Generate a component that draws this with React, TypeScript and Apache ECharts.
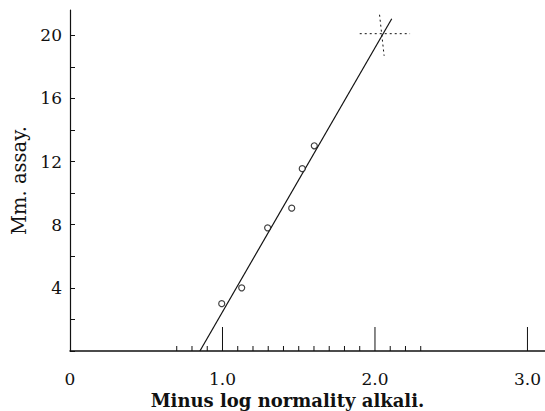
import React, { useEffect, useRef } from 'react';
import * as echarts from 'echarts';

const assayPoints: [number, number][] = [
  [0.995, 3.0],
  [1.126, 4.0],
  [1.296, 7.8],
  [1.454, 9.05],
  [1.523, 11.55],
  [1.602, 13.0],
];
const fitLine: [number, number][] = [
  [0.852, 0],
  [2.11, 21.05],
];
const crossH: [number, number][] = [
  [1.9, 20.1],
  [2.23, 20.1],
];
const crossV: [number, number][] = [
  [2.03, 21.3],
  [2.06, 18.7],
];
const rugMarks: number[] = [0.7, 0.8, 0.9, 1.0, 1.1, 1.2, 1.3, 1.4, 1.5, 1.6, 1.7, 1.8, 1.9, 2.0, 2.1, 2.2, 2.3, 3.0];
const majorMarks: number[] = [1.0, 2.0, 3.0];
const xTickLabels: string[] = ['0', '1.0', '2.0', '3.0'];
const yTickLabels: number[] = [4, 8, 12, 16, 20];

const FONT = '"DejaVu Serif", serif';
const INK = '#111';

export default function App() {
  const ref = useRef<HTMLDivElement>(null);
  useEffect(() => {
    if (!ref.current) return;
    const chart = echarts.init(ref.current, null, { renderer: 'svg' });
    chart.setOption({
      animation: false,
      backgroundColor: '#fff',
      grid: { left: 70, right: 0, top: 10, bottom: 60, containLabel: false, outerBoundsMode: 'none' },
      xAxis: {
        type: 'value',
        min: 0,
        max: 3.115,
        interval: 1,
        splitLine: { show: false },
        axisLine: { show: true, lineStyle: { color: INK, width: 1.5 } },
        axisTick: { show: false },
        axisLabel: {
          margin: 19,
          color: INK,
          fontFamily: FONT,
          fontSize: 17,
          showMaxLabel: false,
          formatter: (v: number) => {
            const i = Math.round(v);
            return Math.abs(v - i) < 1e-6 && xTickLabels[i] !== undefined ? xTickLabels[i] : '';
          },
        },
        name: 'Minus log normality alkali.',
        nameLocation: 'middle',
        nameGap: 38,
        nameTextStyle: {
          color: INK,
          fontFamily: FONT,
          fontSize: 18,
          fontWeight: 'bold',
          padding: [0, 40, 0, 0],
        },
      },
      yAxis: {
        type: 'value',
        min: 0,
        max: 21.6,
        interval: 2,
        splitLine: { show: false },
        axisLine: { show: true, lineStyle: { color: INK, width: 1.2 } },
        axisTick: { show: true, inside: true, length: 5, lineStyle: { color: INK } },
        axisLabel: {
          margin: 8,
          color: INK,
          fontFamily: FONT,
          fontSize: 17,
          showMaxLabel: false,
          formatter: (v: number) => (yTickLabels.indexOf(v) >= 0 ? String(v) : ''),
        },
        name: 'Mm. assay.',
        nameLocation: 'middle',
        nameGap: 40,
        nameTextStyle: {
          color: INK,
          fontFamily: FONT,
          fontSize: 19.5,
        },
      },
      series: [
        {
          type: 'line',
          data: fitLine,
          symbol: 'none',
          lineStyle: { color: INK, width: 1.2 },
        },
        {
          type: 'line',
          data: crossH,
          symbol: 'none',
          lineStyle: { color: INK, width: 1, type: [2, 3] },
        },
        {
          type: 'line',
          data: crossV,
          symbol: 'none',
          lineStyle: { color: INK, width: 1, type: [2, 3] },
        },
        {
          type: 'scatter',
          data: assayPoints,
          symbol: 'circle',
          symbolSize: 6,
          itemStyle: { color: '#fff', borderColor: INK, borderWidth: 1.2 },
          z: 5,
        },
        {
          type: 'custom',
          data: rugMarks.map((v) => [v, 0]),
          clip: false,
          renderItem: (params: any, api: any) => {
            const x = api.value(0);
            const p = api.coord([x, 0]);
            const len = majorMarks.indexOf(x) >= 0 ? 24 : 5;
            return {
              type: 'line',
              shape: { x1: p[0], y1: p[1], x2: p[0], y2: p[1] - len },
              style: { stroke: INK, lineWidth: 1 },
            };
          },
        },
      ],
    });
    return () => chart.dispose();
  }, []);
  return (
    <div
      ref={ref}
      style={{ position: 'fixed', left: 0, top: 0, width: 545, height: 411 }}
    />
  );
}
